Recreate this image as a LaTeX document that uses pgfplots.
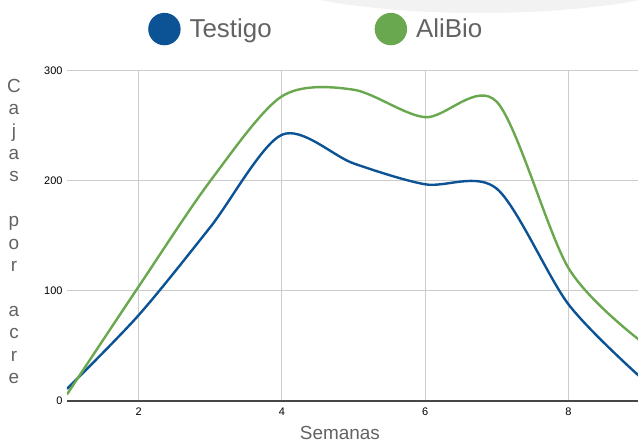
\documentclass[border=0pt]{standalone}
\usepackage{fontspec}
\setmainfont{Liberation Sans}
\usepackage{pgfplots}
\pgfplotsset{compat=1.18}

\definecolor{testigo}{HTML}{0B5394}
\definecolor{alibio}{HTML}{6AA84F}
\definecolor{gridc}{HTML}{CCCCCC}
\definecolor{txtc}{HTML}{636363}

\begin{document}
\begin{tikzpicture}[x=1bp,y=1bp]
% faint background shape at the top
\fill[black!5] (413,437) ellipse [x radius=236, y radius=49];

\begin{axis}[
  anchor=south west,
  scale only axis,
  width=573bp, height=330bp,
  xmin=1, xmax=9,
  ymin=0, ymax=300,
  xtick={2,4,6,8},
  ytick={100,200,300},
  extra y ticks={0},
  extra y tick style={ymajorgrids=true, major grid style={draw=black!72, line width=1.4bp}},
  grid=major,
  major grid style={draw=gridc, line width=1bp},
  axis line style={draw=none},
  tick style={draw=none},
  /pgf/number format/assume math mode=true,
  ticklabel style={font=\fontsize{11}{13}\selectfont, text=black},
  xticklabel style={yshift=-3bp},
  yticklabel style={anchor=east, xshift=-1bp},
  xlabel={Semanas},
  xlabel style={at={(axis description cs:0.4764,-0.1175)}, anchor=base,
    font=\fontsize{19}{22}\selectfont, text=txtc, inner sep=0pt},
  ylabel={C\\a\\j\\a\\s\\\mbox{}\\p\\o\\r\\\mbox{}\\a\\c\\r\\e},
  ylabel style={rotate=-90, at={(axis description cs:-0.0925,0.514)}, anchor=center,
    align=center, font=\fontsize{19}{22.5}\selectfont, text=txtc},
  legend columns=2,
  legend image code/.code={\fill[#1] (0bp,0bp) circle (15bp);},
  legend style={at={(axis description cs:0.1414,1.127)}, anchor=west,
    draw=none, fill=none, inner sep=0pt,
    font=\fontsize{26}{28}\selectfont, text=txtc,
    /tikz/every odd column/.append style={column sep=7bp},
    /tikz/every even column/.append style={column sep=101bp}},
]
\addplot[testigo, line width=2.4bp, smooth] coordinates {
  (1,11) (2,78) (3,158) (4,242) (5,216) (6,197) (7,193) (8,88) (9,22)
};
\addlegendentry{Testigo}
\addplot[alibio, line width=2.4bp, smooth] coordinates {
  (1,6) (2,104) (3,200) (4,277) (5,283) (6,258) (7,272) (8,121) (9,55)
};
\addlegendentry{AliBio}
\end{axis}
\pgfresetboundingbox
\useasboundingbox (-67,-43) rectangle (571,401);
\end{tikzpicture}
\end{document}
